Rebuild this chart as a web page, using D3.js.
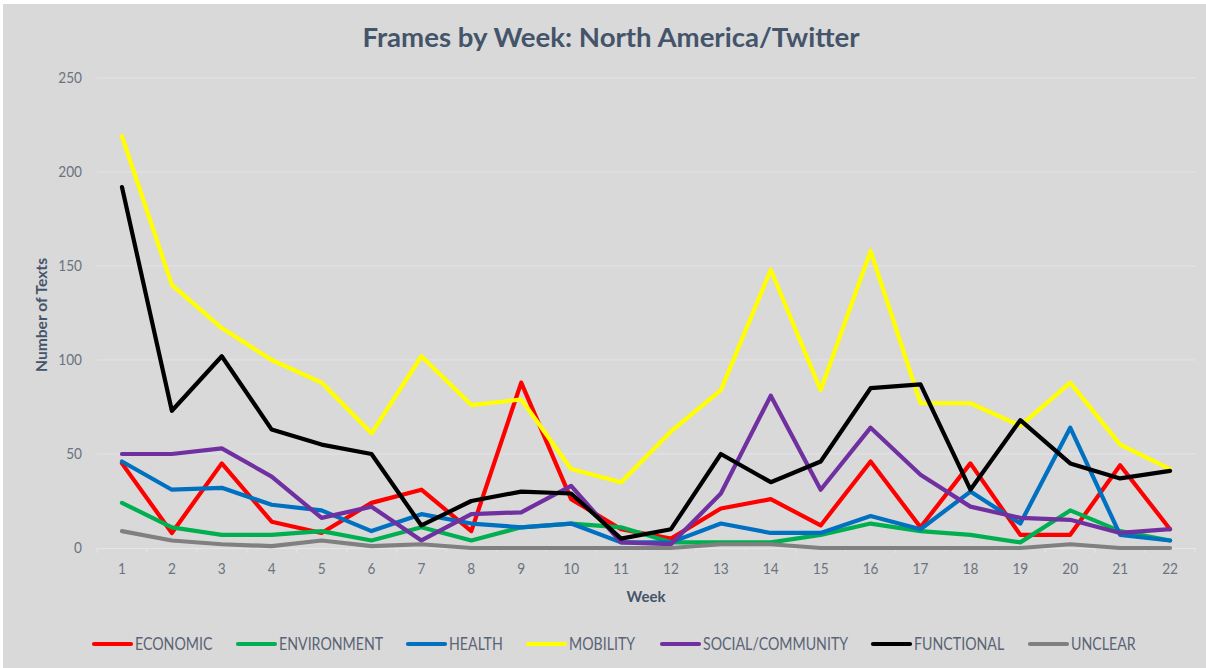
<!DOCTYPE html>
<html><head><meta charset="utf-8">
<script src="https://cdn.jsdelivr.net/npm/d3@7"></script>
<style>
html,body{margin:0;padding:0;background:#fff;}
svg{display:block;}
</style></head>
<body>
<svg id="chart" width="1206" height="668"></svg>
<script>
const weeks = ["1","2","3","4","5","6","7","8","9","10","11","12","13","14","15","16","17","18","19","20","21","22"];
const economic      = [45, 8, 45, 14, 8, 24, 31, 9, 88, 26, 10, 5, 21, 26, 12, 46, 11, 45, 7, 7, 44, 10];
const environment   = [24, 11, 7, 7, 9, 4, 11, 4, 11, 13, 11, 3, 3, 3, 7, 13, 9, 7, 3, 20, 9, 4];
const health        = [46, 31, 32, 23, 20, 9, 18, 13, 11, 13, 3, 3, 13, 8, 8, 17, 10, 30, 13, 64, 7, 4];
const mobility      = [219, 140, 117, 100, 88, 61, 102, 76, 79, 42, 35, 62, 84, 148, 84, 158, 77, 77, 65, 88, 55, 42];
const social        = [50, 50, 53, 38, 16, 22, 4, 18, 19, 33, 3, 2, 29, 81, 31, 64, 39, 22, 16, 15, 8, 10];
const functional    = [192, 73, 102, 63, 55, 50, 12, 25, 30, 29, 5, 10, 50, 35, 46, 85, 87, 31, 68, 45, 37, 41];
const unclear       = [9, 4, 2, 1, 4, 1, 2, 0, 0, 0, 0, 0, 2, 2, 0, 0, 0, 0, 0, 2, 0, 0];
const seriesNames   = ["ECONOMIC","ENVIRONMENT","HEALTH","MOBILITY","SOCIAL/COMMUNITY","FUNCTIONAL","UNCLEAR"];
const seriesColors  = ["#FF0000","#00B050","#0070C0","#FFFF00","#7030A0","#000000","#808080"];
const yTicks        = [0, 50, 100, 150, 200, 250];
const titleText = "Frames by Week: North America/Twitter";
const xTitle = "Week";
const yTitle = "Number of Texts";

const seriesValues = [economic, environment, health, mobility, social, functional, unclear];
const series = seriesNames.map((n,i)=>({name:n, color:seriesColors[i], values:seriesValues[i]}));

const FONT = "Lato, 'Open Sans', sans-serif";
const svg = d3.select("#chart");
const W = 1206, H = 668;
const plot = {left:97, right:1195, top:78, bottom:548};

// condense text horizontally to mimic a narrow (Calibri-like) face
function condense(sel, k){
  sel.each(function(){
    const L = this.getComputedTextLength();
    d3.select(this).attr("textLength", L*k).attr("lengthAdjust","spacingAndGlyphs");
  });
}

svg.append("rect").attr("x",0).attr("y",0).attr("width",W).attr("height",H).attr("fill","#FFFFFF");
svg.append("rect").attr("x",3).attr("y",4).attr("width",W-3).attr("height",H-4).attr("fill","#D9D9D9");

const x = d3.scaleBand().domain(weeks).range([plot.left, plot.right]);
const y = d3.scaleLinear().domain([0,250]).range([plot.bottom, plot.top]);

// gridlines
svg.append("g").selectAll("line").data(yTicks.filter(d=>d>0)).join("line")
  .attr("x1",plot.left).attr("x2",plot.right)
  .attr("y1",d=>y(d)).attr("y2",d=>y(d))
  .attr("stroke","#E4E4EC").attr("stroke-width",1);

// y axis labels
const yAxis = d3.axisLeft(y).tickValues(yTicks).tickSize(0).tickPadding(15);
const yg = svg.append("g").attr("transform",`translate(${plot.left},0)`).call(yAxis);
yg.select(".domain").remove();
yg.selectAll("text").attr("font-family",FONT).attr("font-size","15.5px").attr("fill","#6B7380").call(condense,0.88);

// x axis
const xAxis = d3.axisBottom(x).tickSize(0).tickPadding(15);
const xg = svg.append("g").attr("transform",`translate(0,${plot.bottom})`).call(xAxis);
xg.select(".domain").attr("stroke","#E4E4EC").attr("stroke-width",1);
xg.selectAll("text").attr("font-family",FONT).attr("font-size","15.5px").attr("fill","#6B7380").call(condense,0.88);
// category boundary ticks
const bounds = weeks.map(w=>x(w)).concat([plot.right]);
svg.append("g").selectAll("line").data(bounds).join("line")
  .attr("x1",d=>d).attr("x2",d=>d).attr("y1",plot.bottom).attr("y2",plot.bottom+5)
  .attr("stroke","#E4E4EC").attr("stroke-width",1);

// lines
const line = d3.line().x((d,i)=>x(weeks[i])+x.bandwidth()/2).y(d=>y(d));
svg.append("g").selectAll("path").data(series).join("path")
  .attr("d",d=>line(d.values))
  .attr("fill","none").attr("stroke",d=>d.color)
  .attr("stroke-width",4.2).attr("stroke-linejoin","round").attr("stroke-linecap","round");

// title
svg.append("text").attr("x",611).attr("y",47).attr("text-anchor","middle")
  .attr("font-family",FONT).attr("font-weight","bold")
  .attr("font-size","26px").attr("fill","#44546A")
  .attr("textLength",497).attr("lengthAdjust","spacingAndGlyphs").text(titleText);

// axis titles
svg.append("text").attr("x",(plot.left+plot.right)/2).attr("y",602).attr("text-anchor","middle")
  .attr("font-family",FONT).attr("font-weight","bold")
  .attr("font-size","15px").attr("fill","#44546A").text(xTitle);
svg.append("text").attr("transform",`translate(47,${(plot.top+plot.bottom)/2+2}) rotate(-90)`).attr("text-anchor","middle")
  .attr("font-family",FONT).attr("font-weight","bold")
  .attr("font-size","15.5px").attr("fill","#44546A")
  .attr("textLength",114).attr("lengthAdjust","spacingAndGlyphs").text(yTitle);

// legend
const legendX = [94, 238, 408, 528, 662, 873, 1030];
const lg = svg.append("g").selectAll("g").data(series).join("g")
  .attr("transform",(d,i)=>`translate(${legendX[i]},644)`);
lg.append("line").attr("x1",0).attr("x2",37).attr("y1",0).attr("y2",0)
  .attr("stroke",d=>d.color).attr("stroke-width",4.2).attr("stroke-linecap","round");
lg.append("text").attr("x",41).attr("y",6)
  .attr("font-family",FONT).attr("font-size","16.5px")
  .attr("fill","#5A6474").text(d=>d.name).call(condense,0.86);
</script>
</body></html>
